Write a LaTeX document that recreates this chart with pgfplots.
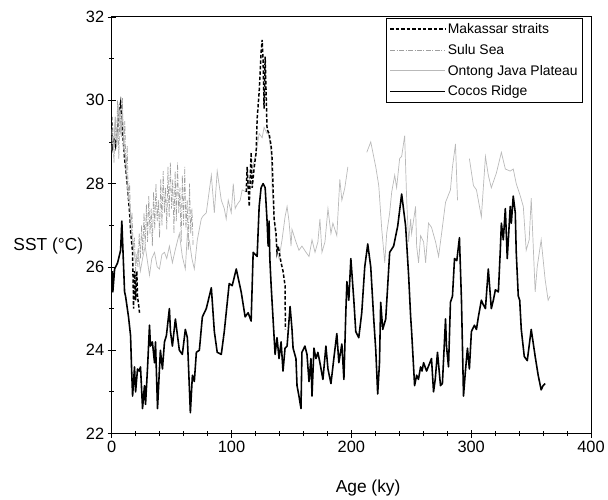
\documentclass[border=0pt]{standalone}
\usepackage{pgfplots}
\pgfplotsset{compat=1.18}
\usepackage{fontspec}
\setmainfont{Liberation Sans}
\begin{document}
\begin{tikzpicture}
\begin{axis}[
  width=481bp, height=418bp, scale only axis,
  xmin=0, xmax=400, ymin=22, ymax=32,
  xtick={0,100,200,300,400}, ytick={22,24,26,28,30,32},
  minor x tick num=4, minor y tick num=1,
  xtick pos=left, ytick pos=left,
  tick align=center,
  major tick length=8bp, minor tick length=5bp,
  every tick/.style={black, line width=0.8pt},
  axis line style={line width=0.9pt},
  /pgf/number format/assume math mode=true,
  tick label style={font=\fontsize{16.5}{18}\selectfont},
  label style={font=\fontsize{17.5}{20}\selectfont},
  xlabel={Age (ky)},
  ylabel={SST (°C)},
  ylabel style={rotate=-90, at={(axis description cs:-0.052,0.45)}, anchor=east},
  xlabel style={at={(axis description cs:0.535,-0.1316)}, anchor=center},
  legend cell align=left,
  legend style={at={(rel axis cs:0.983,0.997)}, anchor=north east, draw=black, line width=0.5pt,
    font=\fontsize{14}{16}\selectfont, inner xsep=3bp, inner ysep=3bp, row sep=5.3bp},
  legend image code/.code={\draw[#1] (0bp,0bp) -- (55bp,0bp);},
]
% Makassar straits
\addplot[black, line width=1.5pt, dash pattern=on 3.5pt off 2pt] coordinates {
(0,29.6) (0.8,28.9) (2,29.1) (3.3,28.9) (5,29.3) (6,29.7) (7.5,29.95) (9,29.3) (10.8,28.6)
(12,28.3) (13.3,27.9) (15,27.3) (16,26.8) (17.5,26.35) (18.3,25.0) (19.2,25.9) (20,25.2)
(21,25.9) (21.6,25.3) (23.3,24.9)
};
\addlegendentry{Makassar straits}
% Sulu Sea
\addplot[gray!75, line width=0.7pt, dash pattern=on 5pt off 1.5pt on 1pt off 1.5pt] coordinates {
(0,28.8) (1,29.4) (2,28.5) (3,29.6) (4,28.9) (5,30.0) (6,28.6) (7,29.8) (8,29.1) (9,30.05)
(10,28.8) (11,29.5) (12,28.3) (13,28.9) (14,27.6) (15,28.0) (16,27.0) (17,27.3) (18,26.4)
(19,26.7) (20,25.9) (21,26.3) (22,26.0) (23,26.8) (24,26.2) (25,27.0) (26,26.3) (27,27.3)
(28,26.5) (29,27.5) (30,26.6) (31,27.7) (32,26.8) (33,27.4) (34,26.5) (35,27.8) (36,26.9)
(37,28.0) (38,27.1) (39,27.6) (40,26.7) (41,28.1) (42,27.0) (43,28.3) (44,27.3) (45,27.9)
(46,26.9) (47,28.4) (48,27.2) (49,28.5) (50,27.4) (51,28.1) (52,26.8) (53,28.3) (54,27.1)
(55,28.5) (56,27.3) (57,27.9) (58,26.6) (59,28.2) (60,27.0) (61,28.4) (62,26.9) (63,27.6)
(64,26.4) (65,28.0) (66,26.8) (67,27.4) (68,26.5)
};
\addlegendentry{Sulu Sea}
% Ontong Java Plateau
\addplot[gray!55, line width=0.7pt, unbounded coords=jump] coordinates {
(0,29.3) (1.5,28.8) (3,29.6) (4.5,28.9) (6,29.9) (7.5,29.2) (9,29.7) (10.5,28.8) (12,28.5)
(13.5,27.8) (15,27.5) (16.5,26.9) (18,26.5) (20,26.1) (22,26.4) (24,25.9) (25.8,26.2)
(28,26.5) (31.6,25.8) (33.5,26.2) (35.8,26.35) (38,26.0) (39.9,25.95) (42,26.3) (44.1,26.35)
(46,26.2) (48.2,26.5) (50.7,26.1) (53,26.4) (56.5,26.8) (59.0,26.25) (61.5,25.95) (63.2,26.8)
(65,26.6) (67,26.2) (69.0,25.95) (71.5,26.65) (74.8,27.15)
(75.7,27.2) (79.0,27.3) (83.2,28.2) (85.7,27.3) (88.1,28.3) (91.5,27.6) (94,27.4) (95.6,27.15)
(97.3,27.6) (99.8,27.3) (101.5,28.0) (103.1,27.4) (104.8,27.5) (107.3,27.6) (108.9,27.85)
(112.3,27.8) (114.8,28.1) (117.3,28.35) (120.6,28.75) (123.1,29.2) (125.6,29.1) (127.2,29.35)
(129.7,29.2) (130.6,29.25) (133.1,28.75) (133.9,27.9) (135.6,27.15) (138,26.35) (139.7,26.2)
(142.2,26.65) (144.7,27.2) (146.4,27.45) (148,27.1) (149.7,26.5) (150.5,26.9) (153.8,26.6)
(156.3,26.4) (158.8,26.5) (162.2,26.35) (164.7,26.25) (167.2,26.65) (169.7,26.35) (172.1,26.6)
(173.8,27.15) (175.5,26.35) (178,26.6) (180.5,27.4) (183,26.8) (184.6,27.05) (186.3,26.9)
(187.9,26.75) (190.4,28.1) (192.1,27.6) (194.6,27.9) (197.1,28.4)
(200,nan)
(212.9,28.75) (216.2,29.0) (220.4,28.4) (222.9,27.95) (225.4,26.9) (227.9,26.1) (229.5,26.8)
(232,27.3) (233.7,27.8) (236.2,28.2) (237.8,27.9) (240.3,28.6) (242,28.65) (244.5,29.15)
(246.2,27.6) (247.8,26.6) (249.5,27.15) (250.3,26.8) (253.6,27.45) (254.5,26.5) (256.1,26.1)
(257.8,26.75) (260.3,26.6) (262,26.1) (264.4,27.05) (266.9,26.95) (270.3,26.6) (272.8,26.25)
(275.3,26.8) (278.6,27.55) (282.7,27.85) (284.4,28.4) (286.9,28.95) (288.6,27.6)
(293,nan)
(298.5,28.6) (301.9,27.95) (304.4,27.85) (308.5,27.2) (311.9,28.65) (314.3,28.2) (316.8,27.9)
(321,28.25) (325.2,28.75) (328.5,28.35) (332.6,28.3) (335.1,28.35) (337.6,28.0) (341,27.7)
(343.5,27.45) (345.9,26.4) (348.4,26.65) (350.1,27.65) (353.4,25.4) (355.1,26.0) (358.4,26.65)
(361.7,25.7) (364.2,25.2) (365.9,25.3)
};
\addlegendentry{Ontong Java Plateau}
% Cocos Ridge
\addplot[black, line width=1.6pt, line join=round] coordinates {
(0.5,25.9) (1,25.4) (2.5,25.95) (5,26.1) (7.5,26.4) (8.5,27.1) (10.8,25.4) (11.6,25.3)
(14.1,24.8) (15.8,24.35) (16.6,23.6) (17.5,22.9) (19.1,23.6) (20.0,23.0) (21.6,23.55)
(23,23.5) (24.1,23.6) (25.8,22.6) (27.4,23.15) (28.3,22.7) (30,23.6) (31.6,24.6) (32.4,24.1)
(34,24.2) (35.8,23.7) (36.6,24.2) (38.3,22.6) (39.9,23.55) (40.7,24.0) (42.4,23.55) (44.1,24.2)
(45.7,24.35) (48.2,25.0) (49.1,24.45) (50.7,24.1) (53.2,24.75) (56.5,24.0) (59.0,23.9)
(61.5,24.5) (63.2,24.3) (65.7,22.5) (67.4,23.4) (69.0,23.25) (70.7,23.95) (73.2,24.0)
(75.7,24.8) (79.0,25.0) (83.2,25.5) (85.7,24.45) (88.1,23.95) (91.5,23.9) (94.0,24.45)
(98.1,25.6) (100.6,25.55) (104.0,25.95) (108.1,25.4) (111.4,24.8) (113.9,24.9) (116.4,24.7)
(118.1,26.35) (121.4,26.25) (123.1,27.45) (124.7,27.9) (126.4,28.0) (128.1,27.9) (129.7,27.1)
(130.6,26.5) (131.4,27.1) (132,26.2) (133.1,25.55) (134.7,24.75) (136.4,23.9) (138.0,24.3)
(139.7,23.8) (141.4,24.2) (143.0,23.5) (144.7,24.05) (146.4,24.1) (148.9,25.05) (150.5,24.5)
(151.4,24.05) (153.8,23.8) (154.7,23.15) (156.3,22.9) (158.0,22.6) (158.8,23.95) (161.3,24.1)
(163.0,23.9) (164.7,23.25) (166.3,23.8) (167.2,22.9) (168.8,24.05) (170.5,23.8) (172.1,23.95)
(173.8,23.7) (176.3,23.3) (178.8,24.1) (180.5,23.55) (183.0,23.2) (185.4,23.8) (187.9,24.4)
(189.6,23.7) (192.1,24.15) (193.8,23.3) (195.4,24.9) (196.3,25.65) (197.9,25.2) (199.6,26.2)
(202.1,25.2) (203.7,24.45) (206.2,24.3) (208.7,24.9) (211.2,26.0) (213.7,26.55) (216.2,26.0)
(218.7,24.75) (220.4,24.0) (222.0,22.95) (223.5,23.7) (224.5,25.15) (226.2,24.5) (228.7,24.75)
(232.0,26.35) (235.3,26.5) (238.7,26.98) (242.0,27.75) (245.3,26.98) (247.8,25.8) (249.5,24.8)
(250.3,24.45) (252.8,23.15) (254.5,23.4) (256,23.3) (257.8,23.6) (259,23.5) (260.3,23.7)
(262.8,23.5) (266.9,23.8) (268.6,23.0) (270,23.3) (271.9,23.95) (274.4,23.15) (276,23.2)
(278.6,24.75) (279.4,24.1) (281.1,23.6) (282.7,25.15) (284.4,25.3) (286.1,26.2) (288,26.15)
(290.2,26.7) (291.9,25.2) (293.6,22.9) (295.2,23.5) (296.9,24.05) (298.5,23.55) (300.2,24.45)
(302.7,24.6) (304.4,24.5) (306,24.8) (308.5,25.2) (310,25.1) (311.9,25.0) (314.3,25.95)
(316.8,25.0) (318.5,25.2) (320.2,25.45) (322.7,25.4) (324.3,26.4) (325.2,27.05) (326.8,26.65)
(328.5,27.4) (330.1,26.2) (332.6,27.45) (333.5,27.05) (335.1,27.7) (336.8,27.3) (337.6,26.35)
(339.3,25.3) (340.5,25.2) (341.8,24.5) (344.3,23.85) (346.8,23.75) (350.1,24.5) (353.4,23.85)
(355.9,23.4) (358.4,23.05) (360,23.15) (361.7,23.2)
};
\addlegendentry{Cocos Ridge}
% Makassar straits, second section
\addplot[black, line width=1.5pt, dash pattern=on 3.5pt off 2pt, forget plot] coordinates {
(112.3,27.8) (113.1,28.4) (114.8,27.45) (116.4,28.75) (117.3,27.9) (119,28.4) (120.6,28.75)
(121.4,29.55) (123.1,30.2) (124.7,31.15) (125.6,31.45) (126.4,30.95) (127.2,29.8) (128.1,31.05)
(129.7,29.3) (131.4,29.2) (133.1,28.9) (133.9,28.6) (134.7,27.9) (135.6,27.15) (137.2,26.8)
(138,26.35) (139,26.5) (141.4,26.1) (143,25.9) (144.7,25.55) (145,24.5)
};
\end{axis}
\path ([xshift=-112bp,yshift=17bp]current axis.north west) ([xshift=15bp,yshift=-62bp]current axis.south east);
\end{tikzpicture}
\end{document}
